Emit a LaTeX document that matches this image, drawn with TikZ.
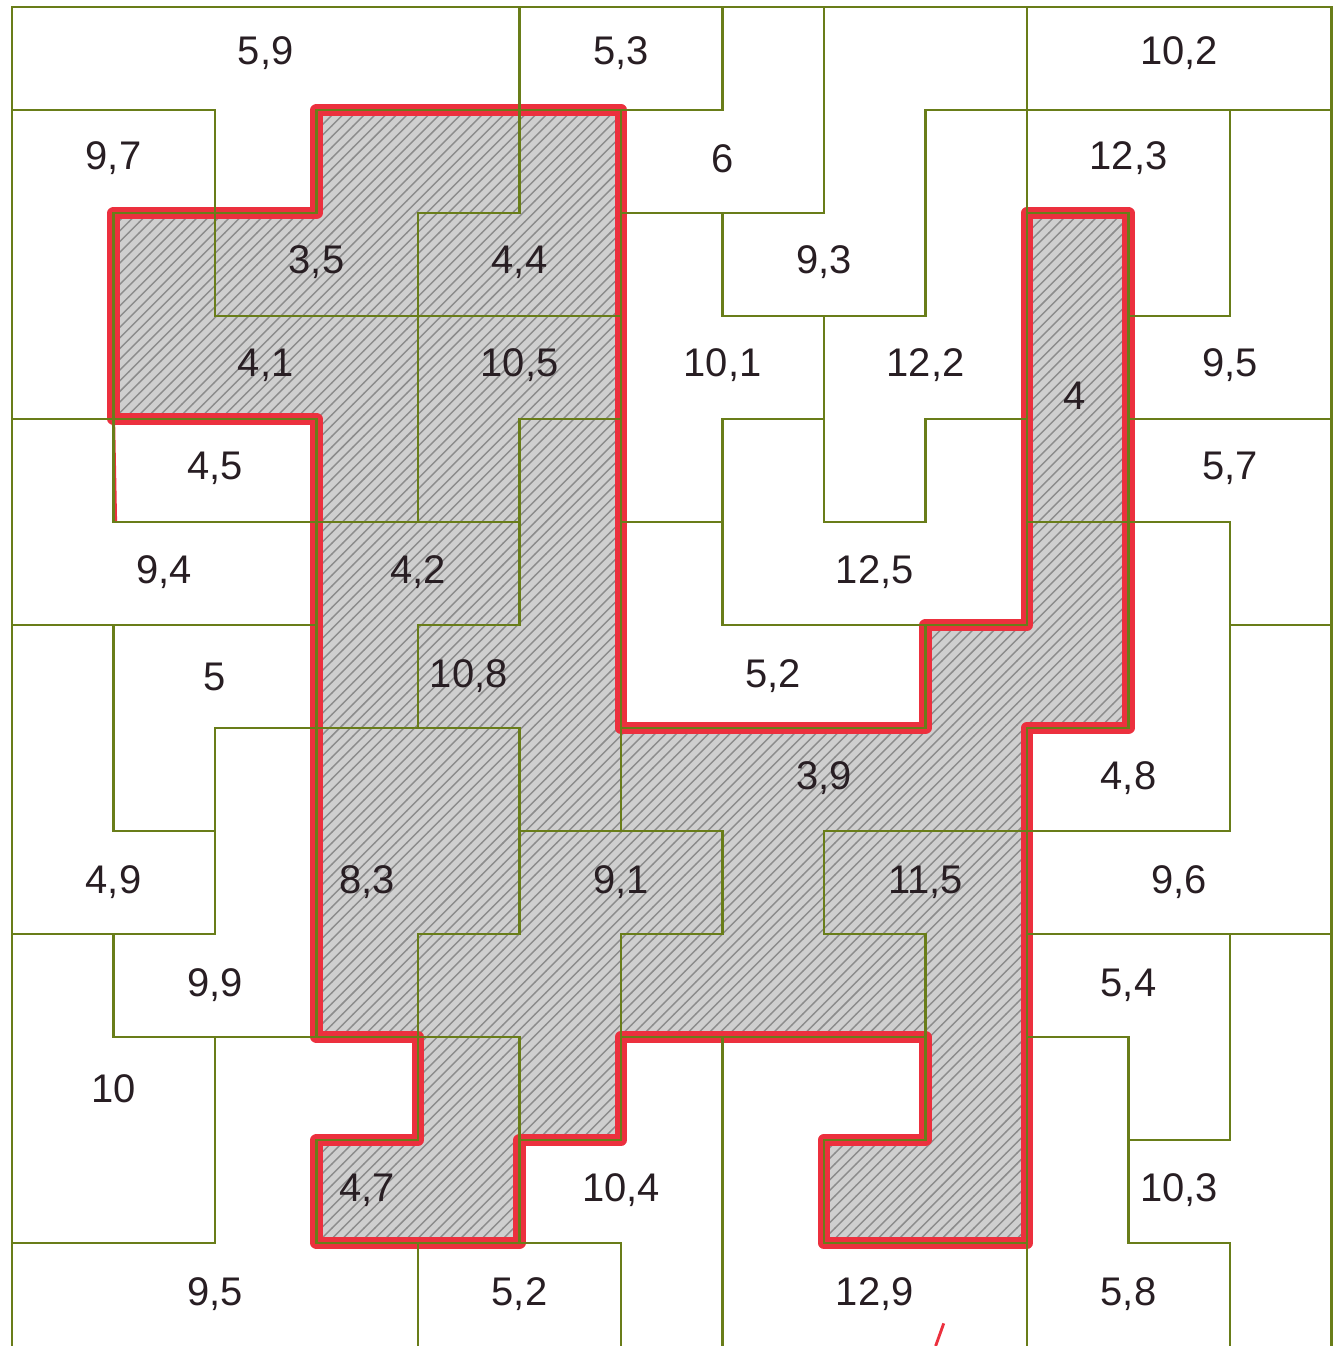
\documentclass[tikz,border=0pt]{standalone}
\usepackage{fontspec}
\setmainfont{Liberation Sans}
\usetikzlibrary{patterns}
\definecolor{wallgreen}{RGB}{105,125,25}
\definecolor{markred}{RGB}{236,48,62}
\definecolor{inkdark}{RGB}{40,30,35}

\begin{document}
\begin{tikzpicture}[x=1cm, y=-1.0148cm,
  wall/.style={wallgreen, line width=0.8pt, line cap=rect},
  rim/.style={markred, line width=3.4pt, line join=round, line cap=round},
  num/.style={font=\fontsize{11.2}{13}\selectfont, text=inkdark, inner sep=0pt}
]
\useasboundingbox (-0.118,-0.068) rectangle (13.034,13.0);
\def\blockpath{(10,2) -- (11,2) -- (11,7) -- (10,7) -- (10,12) -- (8,12) -- (8,11) -- (9,11) -- (9,10) -- (6,10) -- (6,11) -- (5,11) -- (5,12) -- (3,12) -- (3,11) -- (4,11) -- (4,10) -- (3,10) -- (3,4) -- (1,4) -- (1,2) -- (3,2) -- (3,1) -- (6,1) -- (6,7) -- (9,7) -- (9,6) -- (10,6) -- cycle}

% pencil shading and red outline
\fill[gray!38] \blockpath;
\fill[pattern=north east lines, pattern color=gray!90] \blockpath;
\draw[rim] \blockpath;
\draw[markred, line width=0.9pt] (1,4) -- (1.02,5);
\draw[markred, line width=0.8pt] (9.1,13.0) -- (9.18,12.78);

% region walls, row lines
\draw[wall] (0,0) -- (13,0);
\draw[wall] (0,1) -- (2,1) (3,1) -- (7,1) (9,1) -- (13,1);
\draw[wall] (1,2) -- (3,2) (4,2) -- (5,2) (6,2) -- (8,2) (10,2) -- (11,2);
\draw[wall] (2,3) -- (6,3) (7,3) -- (9,3) (11,3) -- (12,3);
\draw[wall] (0,4) -- (3,4) (5,4) -- (6,4) (7,4) -- (8,4) (9,4) -- (10,4) (11,4) -- (13,4);
\draw[wall] (1,5) -- (5,5) (6,5) -- (7,5) (8,5) -- (9,5) (10,5) -- (12,5);
\draw[wall] (0,6) -- (3,6) (4,6) -- (5,6) (7,6) -- (10,6) (12,6) -- (13,6);
\draw[wall] (2,7) -- (5,7) (6,7) -- (9,7) (10,7) -- (11,7);
\draw[wall] (1,8) -- (2,8) (5,8) -- (7,8) (8,8) -- (12,8);
\draw[wall] (0,9) -- (2,9) (4,9) -- (5,9) (6,9) -- (7,9) (8,9) -- (9,9) (10,9) -- (13,9);
\draw[wall] (1,10) -- (5,10) (6,10) -- (9,10) (10,10) -- (11,10);
\draw[wall] (3,11) -- (4,11) (5,11) -- (6,11) (8,11) -- (9,11) (11,11) -- (12,11);
\draw[wall] (0,12) -- (2,12) (3,12) -- (6,12) (8,12) -- (10,12) (11,12) -- (12,12);

% column lines
\draw[wall] (0,0) -- (0,13);
\draw[wall] (1,2) -- (1,5) (1,6) -- (1,8) (1,9) -- (1,10);
\draw[wall] (2,1) -- (2,3) (2,7) -- (2,9) (2,10) -- (2,12);
\draw[wall] (3,1) -- (3,2) (3,4) -- (3,10) (3,11) -- (3,12);
\draw[wall] (4,2) -- (4,5) (4,6) -- (4,7) (4,9) -- (4,11) (4,12) -- (4,13);
\draw[wall] (5,0) -- (5,2) (5,4) -- (5,6) (5,7) -- (5,9) (5,10) -- (5,12);
\draw[wall] (6,1) -- (6,8) (6,9) -- (6,11) (6,12) -- (6,13);
\draw[wall] (7,0) -- (7,1) (7,2) -- (7,3) (7,4) -- (7,6) (7,8) -- (7,9) (7,10) -- (7,13);
\draw[wall] (8,0) -- (8,2) (8,3) -- (8,5) (8,8) -- (8,9) (8,11) -- (8,12);
\draw[wall] (9,1) -- (9,3) (9,4) -- (9,5) (9,6) -- (9,7) (9,9) -- (9,11);
\draw[wall] (10,0) -- (10,6) (10,7) -- (10,13);
\draw[wall] (11,2) -- (11,7) (11,10) -- (11,12);
\draw[wall] (12,1) -- (12,3) (12,5) -- (12,8) (12,9) -- (12,11) (12,12) -- (12,13);
\draw[wall] (13,0) -- (13,13);

% region values
\node[num] (v59) at (2.5,0.45) {5,9};
\node[num] (v53) at (6,0.45) {5,3};
\node[num] (v102) at (11.5,0.45) {10,2};
\node[num] (v97) at (1,1.47) {9,7};
\node[num] (v6) at (7,1.47) {6};
\node[num] (v123) at (11,1.47) {12,3};
\node[num] (v35) at (3,2.48) {3,5};
\node[num] (v44) at (5,2.48) {4,4};
\node[num] (v93) at (8,2.48) {9,3};
\node[num] (v41) at (2.5,3.48) {4,1};
\node[num] (v105) at (5,3.48) {10,5};
\node[num] (v101) at (7,3.48) {10,1};
\node[num] (v122) at (9,3.48) {12,2};
\node[num] (v95) at (12,3.48) {9,5};
\node[num] (v4) at (10.47,3.77) {4};
\node[num] (v45) at (2,4.48) {4,5};
\node[num] (v57) at (12,4.48) {5,7};
\node[num] (v94) at (1.5,5.49) {9,4};
\node[num] (v42) at (4,5.49) {4,2};
\node[num] (v125) at (8.5,5.49) {12,5};
\node[num] (v5) at (2,6.5) {5};
\node[num] (v108) at (4.5,6.5) {10,8};
\node[num] (v52) at (7.5,6.5) {5,2};
\node[num] (v39) at (8,7.49) {3,9};
\node[num] (v48) at (11,7.49) {4,8};
\node[num] (v49) at (1,8.5) {4,9};
\node[num] (v83) at (3.5,8.5) {8,3};
\node[num] (v91) at (6,8.5) {9,1};
\node[num] (v115) at (9,8.5) {11,5};
\node[num] (v96) at (11.5,8.5) {9,6};
\node[num] (v99) at (2,9.5) {9,9};
\node[num] (v54) at (11,9.5) {5,4};
\node[num] (v10) at (1,10.5) {10};
\node[num] (v47) at (3.5,11.49) {4,7};
\node[num] (v104) at (6,11.49) {10,4};
\node[num] (v103) at (11.5,11.49) {10,3};
\node[num] (v95b) at (2,12.5) {9,5};
\node[num] (v52b) at (5,12.5) {5,2};
\node[num] (v129) at (8.5,12.5) {12,9};
\node[num] (v58) at (11,12.5) {5,8};
\end{tikzpicture}
\end{document}
